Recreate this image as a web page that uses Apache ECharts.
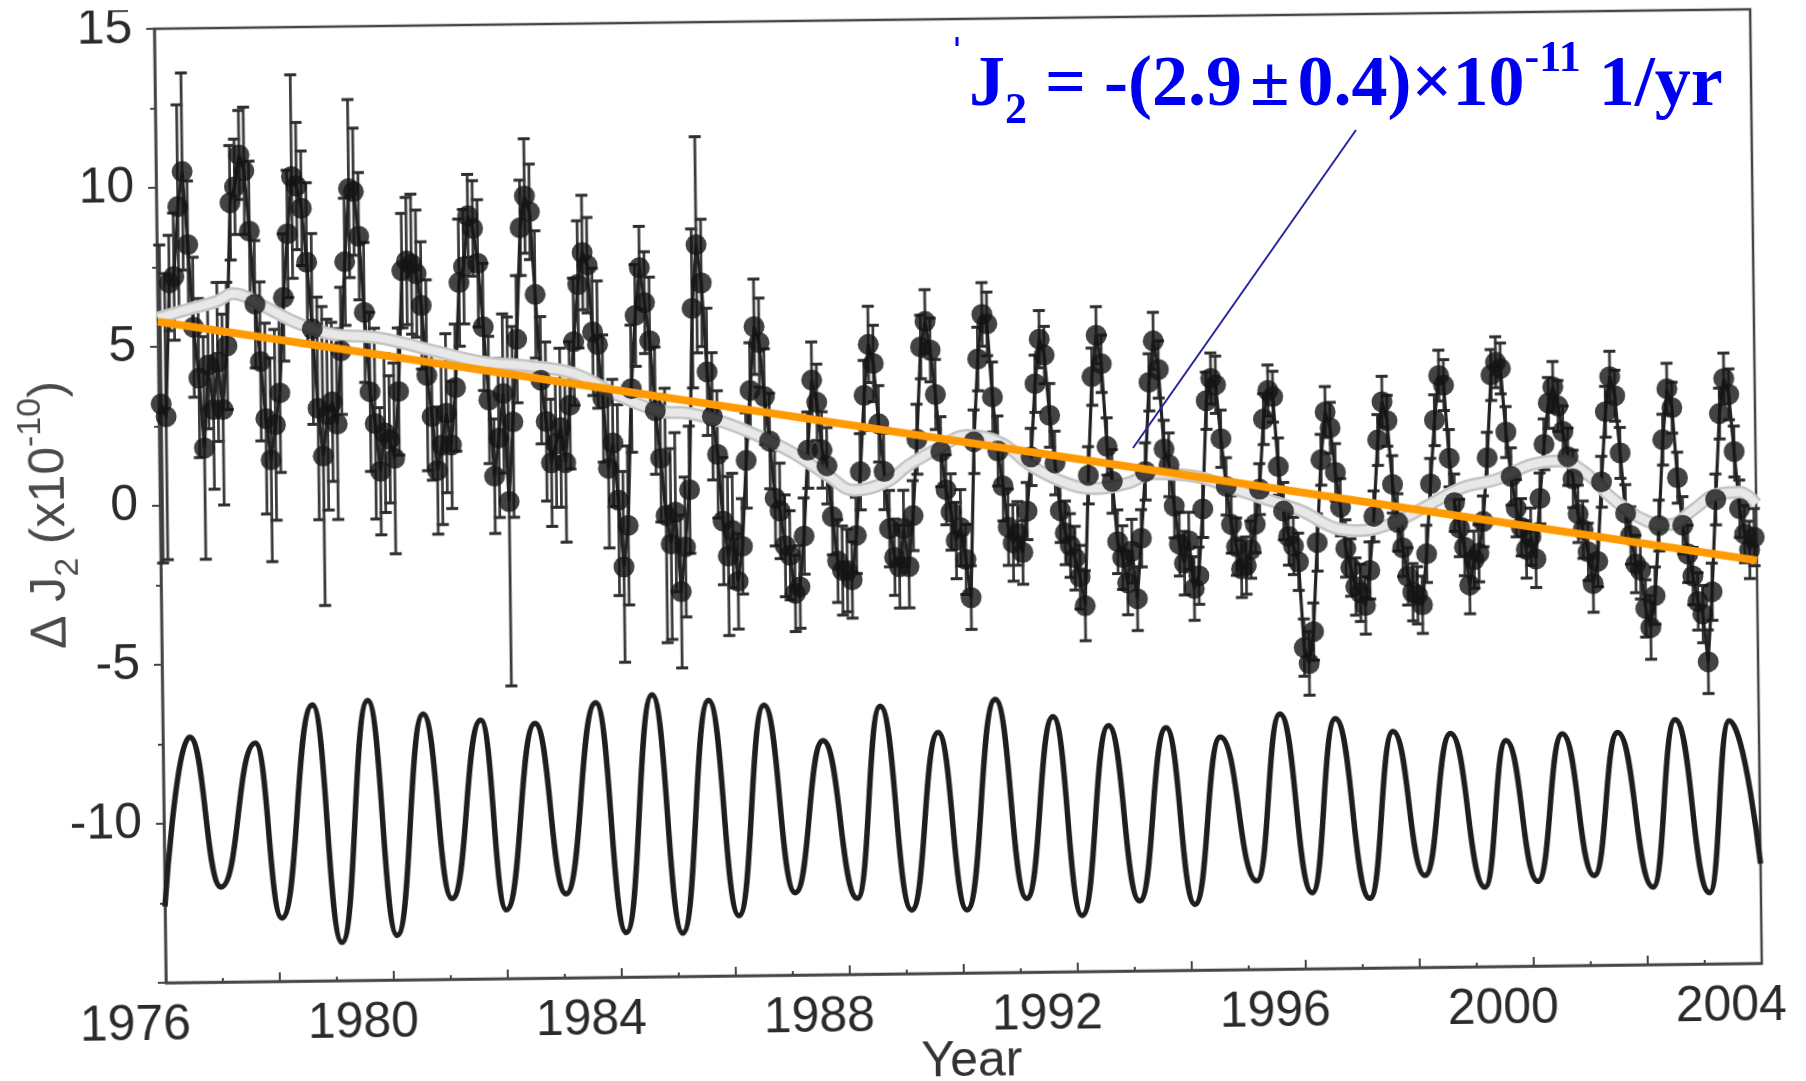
<!DOCTYPE html>
<html>
<head>
<meta charset="utf-8">
<script src="https://cdn.jsdelivr.net/npm/echarts@6/dist/echarts.min.js"></script>
<style>
  html, body { margin: 0; padding: 0; background: #fff; width: 1806px; height: 1081px; overflow: hidden; }
  /* the scanned figure sits slightly tilted on the page */
  #plot { position: absolute; left: 0; top: 0; width: 1806px; height: 1081px;
          transform: rotate(-0.7deg); transform-origin: 958.5px 496px; }
  #note { position: absolute; left: 0; top: 0; width: 1806px; height: 1081px; pointer-events: none; }
</style>
</head>
<body>
<div id="plot"></div>
<div id="note"></div>
<script>
// Monthly Delta J2 solutions (x1e-10), one row per year, Jan..Dec
const j2Monthly = [
  /*1976*/  3.2,  2.8,  7.0,  7.2,  9.4, 10.5,  8.2,  5.6,  4.0,  1.8,  4.4,  3.0,
  /*1977*/  4.5,  3.0,  5.0,  9.5, 10.0, 11.0, 10.5,  8.6,  6.3,  4.5,  2.7,  1.4,
  /*1978*/  2.5,  3.5,  6.5,  8.5, 10.3, 10.0,  9.3,  7.6,  5.5,  3.0,  1.5,  2.8,
  /*1979*/  3.2,  2.5,  4.8,  7.6,  9.9,  9.8,  8.4,  6.0,  3.5,  2.5,  1.0,  2.2,
  /*1980*/  2.0,  1.4,  3.5,  7.3,  7.6,  7.5,  7.2,  6.2,  4.0,  2.7,  1.0,  1.8,
  /*1981*/  2.8,  1.8,  3.6,  6.9,  7.4,  9.0,  8.6,  7.5,  5.5,  3.2,  0.8,  2.0,
  /*1982*/  3.4,  0.0,  2.5,  5.1,  8.6,  9.6,  9.1,  6.5,  3.8,  2.5,  1.2,  1.8,
  /*1983*/  2.3,  1.2,  3.0,  5.0,  6.8,  7.8,  7.4,  5.3,  4.9,  3.2,  1.0,  1.8,
  /*1984*/  0.0, -2.1, -0.8,  3.5,  5.8,  7.3,  6.2,  5.0,  2.8,  1.3, -0.5, -1.4,
  /*1985*/ -0.4, -2.9, -1.5,  0.3,  6.0,  8.0,  6.8,  4.0,  2.6,  1.4, -0.7, -1.8,
  /*1986*/ -1.0, -2.6, -1.5,  1.2,  3.4,  5.4,  4.9,  3.2,  1.8,  0.0, -0.4, -1.5,
  /*1987*/ -1.8, -3.0, -2.8, -1.2,  1.5,  3.7,  3.0,  1.5,  1.0, -0.6, -2.0, -2.3,
  /*1988*/ -2.3, -2.6, -1.2,  0.8,  3.2,  4.8,  4.2,  2.3,  0.8, -1.0, -1.9, -2.2,
  /*1989*/ -1.0, -2.2, -0.6,  1.8,  4.7,  5.5,  4.6,  3.2,  1.4,  0.2, -0.5, -1.4,
  /*1990*/ -1.0, -2.0, -3.2,  1.7,  4.3,  5.7,  5.4,  3.1,  1.4,  0.3, -1.0, -1.5,
  /*1991*/ -1.2, -1.8, -0.5,  1.2,  3.5,  4.9,  4.4,  2.5,  1.0, -0.5, -1.2, -1.6,
  /*1992*/ -2.0, -2.6, -3.5,  0.6,  3.7,  5.0,  4.1,  1.5,  0.4, -1.5, -2.0, -2.8,
  /*1993*/ -1.8, -3.3, -1.4,  0.7,  3.5,  4.8,  3.9,  1.4,  0.9, -0.4, -1.6, -2.2,
  /*1994*/ -1.5, -3.0, -2.6, -0.5,  2.9,  3.6,  3.4,  1.7,  0.2, -1.0, -1.7, -2.4,
  /*1995*/ -2.3, -1.8, -1.0,  0.1,  2.3,  3.2,  3.0,  0.8, -0.6, -1.4, -1.7, -2.2,
  /*1996*/ -4.9, -5.4, -4.4, -1.6,  1.0,  2.5,  2.0,  0.6, -0.5, -1.8, -2.4, -3.0,
  /*1997*/ -3.2, -3.6, -2.5, -0.8,  1.6,  2.8,  2.2,  0.2, -1.0, -1.8, -2.7, -3.2,
  /*1998*/ -3.3, -3.6, -2.0,  0.2,  2.2,  3.6,  3.3,  1.0, -0.4, -1.2, -1.8, -3.0,
  /*1999*/ -2.2, -2.0, -1.0,  1.0,  3.6,  4.0,  3.8,  1.8,  0.4, -0.6, -1.2, -1.9,
  /*2000*/ -1.5, -2.2, -0.3,  1.4,  2.7,  3.2,  2.6,  1.8,  1.0,  0.3, -0.8, -1.3,
  /*2001*/ -2.0, -3.0, -2.3,  0.2,  2.4,  3.5,  2.9,  1.1, -0.8, -1.5, -2.4, -2.6,
  /*2002*/ -3.8, -4.4, -3.4, -1.2,  1.5,  3.1,  2.5,  0.3, -1.2, -2.1, -2.8, -3.6,
  /*2003*/ -4.0, -5.5, -3.3, -0.4,  2.3,  3.4,  2.9,  1.1, -0.7, -1.5, -2.0, -1.6
];

// One-sigma uncertainty of each monthly solution (x1e-10)
const j2Sigma = [
  /*1976*/ 5.0, 4.5, 1.5, 2.0, 3.2, 3.1, 2.0, 2.2, 2.5, 3.5, 2.0, 2.5,
  /*1977*/ 2.5, 3.0, 2.0, 1.8, 1.5, 1.4, 2.0, 2.2, 2.0, 2.5, 3.0, 3.2,
  /*1978*/ 3.0, 2.5, 2.0, 2.0, 3.2, 2.0, 1.8, 2.5, 3.0, 3.5, 4.7, 3.0,
  /*1979*/ 2.5, 3.0, 2.0, 2.0, 2.8, 2.0, 2.0, 2.2, 2.5, 3.0, 2.0, 2.5,
  /*1980*/ 2.0, 3.0, 2.0, 1.8, 2.0, 2.2, 2.0, 2.0, 3.0, 2.0, 2.0, 2.5,
  /*1981*/ 2.5, 2.0, 2.0, 2.0, 1.8, 1.3, 1.5, 2.0, 2.0, 2.0, 1.8, 2.5,
  /*1982*/ 2.5, 5.8, 3.0, 2.0, 1.5, 1.8, 1.5, 2.0, 2.0, 2.5, 2.0, 2.0,
  /*1983*/ 2.5, 2.5, 2.0, 2.0, 2.0, 1.8, 1.5, 2.0, 2.0, 2.0, 2.5, 2.0,
  /*1984*/ 3.0, 3.0, 2.5, 2.0, 1.6, 1.3, 1.6, 2.0, 2.0, 2.0, 4.0, 3.0,
  /*1985*/ 2.5, 2.4, 2.2, 2.0, 2.5, 3.4, 2.0, 2.0, 2.0, 2.0, 2.0, 2.5,
  /*1986*/ 1.8, 1.5, 1.5, 1.5, 1.5, 1.5, 1.4, 1.5, 1.5, 1.5, 1.5, 1.6,
  /*1987*/ 1.4, 1.2, 1.3, 1.2, 1.2, 1.2, 1.2, 1.2, 1.2, 1.2, 1.3, 1.4,
  /*1988*/ 1.3, 1.2, 1.2, 1.2, 1.1, 1.2, 1.2, 1.2, 1.2, 1.2, 1.2, 1.3,
  /*1989*/ 1.2, 1.3, 1.1, 1.1, 1.0, 1.0, 1.0, 1.1, 1.1, 1.1, 1.2, 1.2,
  /*1990*/ 1.2, 1.1, 1.0, 1.0, 1.0, 1.0, 1.0, 1.1, 1.1, 1.1, 1.2, 1.2,
  /*1991*/ 1.0, 1.0, 0.9, 0.9, 0.9, 0.9, 0.9, 1.0, 1.0, 1.0, 1.0, 1.0,
  /*1992*/ 1.0, 1.0, 1.1, 0.9, 0.9, 0.9, 0.9, 0.9, 1.0, 1.0, 1.0, 1.0,
  /*1993*/ 1.0, 1.0, 0.9, 0.9, 0.9, 0.9, 0.9, 0.9, 1.0, 1.0, 1.0, 1.0,
  /*1994*/ 0.9, 1.0, 0.9, 0.9, 0.9, 0.8, 0.9, 0.9, 0.9, 0.9, 0.9, 0.9,
  /*1995*/ 0.9, 0.9, 0.9, 0.8, 0.8, 0.8, 0.8, 0.9, 0.9, 0.9, 0.9, 0.9,
  /*1996*/ 0.9, 1.0, 0.9, 0.9, 0.8, 0.8, 0.8, 0.9, 0.9, 0.9, 0.9, 0.9,
  /*1997*/ 0.9, 0.9, 0.9, 0.8, 0.8, 0.8, 0.8, 0.9, 0.9, 0.9, 0.9, 0.9,
  /*1998*/ 0.9, 0.9, 0.9, 0.8, 0.8, 0.8, 0.8, 0.9, 0.9, 0.9, 0.9, 0.9,
  /*1999*/ 0.9, 0.9, 0.8, 0.8, 0.8, 0.8, 0.8, 0.8, 0.9, 0.9, 0.9, 0.9,
  /*2000*/ 0.9, 0.9, 0.8, 0.8, 0.8, 0.8, 0.8, 0.8, 0.9, 0.9, 0.9, 0.9,
  /*2001*/ 0.9, 0.9, 0.8, 0.8, 0.8, 0.8, 0.8, 0.8, 0.9, 0.9, 0.9, 0.9,
  /*2002*/ 0.9, 1.0, 0.9, 0.8, 0.8, 0.8, 0.8, 0.8, 0.9, 0.9, 0.9, 0.9,
  /*2003*/ 0.9, 1.0, 0.9, 0.8, 0.8, 0.8, 0.8, 0.8, 0.9, 0.9, 0.9, 0.9
];

// Low-pass (interannual) curve through the monthly series: [year, value]
const j2Smoothed = [
  [1976.00, 5.90], [1976.50, 6.15], [1977.03, 6.40], [1977.33, 6.64], [1977.84, 6.25],
  [1978.44, 5.70], [1979.05, 5.33], [1979.86, 5.20], [1980.87, 4.75], [1981.68, 4.40],
  [1982.49, 4.25], [1983.29, 4.00], [1984.10, 3.26], [1984.81, 2.78], [1985.31, 2.70],
  [1985.92, 2.40], [1986.53, 1.95], [1987.13, 1.40], [1987.74, 0.67], [1988.18, 0.22],
  [1988.75, 0.47], [1989.15, 1.00], [1989.66, 1.50], [1990.16, 1.90], [1990.77, 1.65],
  [1991.28, 0.93], [1991.88, 0.38], [1992.39, 0.18], [1993.00, 0.35], [1993.40, 0.63],
  [1994.21, 0.51], [1994.81, 0.14], [1995.42, -0.23], [1996.02, -0.60], [1996.63, -1.16],
  [1997.04, -1.24], [1997.64, -1.00], [1998.25, -0.47], [1998.85, 0.07], [1999.46, 0.32],
  [2000.07, 0.77], [2000.57, 0.87], [2001.08, 0.39], [2001.48, -0.33], [2002.09, -1.06],
  [2002.49, -1.17], [2002.90, -0.71], [2003.30, -0.24], [2003.71, -0.18], [2004.00, -0.55]
];

// Seasonal model drawn below the data, offset for display: turning points [year, value]
const seasonalTurns = [
  [1976.00, -12.60], [1976.47, -7.29], [1976.99, -12.01], [1977.62, -7.50], [1978.05, -13.01],
  [1978.63, -6.32], [1979.10, -13.80], [1979.60, -6.20], [1980.07, -13.60], [1980.57, -6.65],
  [1981.04, -12.46], [1981.58, -6.86], [1981.99, -12.84], [1982.53, -6.99], [1983.04, -12.36],
  [1983.60, -6.36], [1984.09, -13.60], [1984.59, -6.13], [1985.08, -13.64], [1985.58, -6.33],
  [1986.07, -13.11], [1986.55, -6.50], [1987.06, -12.41], [1987.58, -7.64], [1988.15, -12.61],
  [1988.59, -6.58], [1989.10, -13.00], [1989.60, -7.43], [1990.07, -13.02], [1990.61, -6.41],
  [1991.12, -12.68], [1991.62, -6.97], [1992.09, -13.24], [1992.59, -7.28], [1993.10, -12.80],
  [1993.60, -7.37], [1994.07, -12.93], [1994.55, -7.68], [1995.16, -12.22], [1995.60, -6.98],
  [1996.13, -12.61], [1996.57, -7.15], [1997.14, -12.81], [1997.58, -7.57], [1998.11, -12.11],
  [1998.59, -7.66], [1999.16, -12.50], [1999.56, -7.90], [2000.09, -12.34], [2000.55, -7.71],
  [2001.08, -12.18], [2001.52, -7.69], [2002.11, -12.56], [2002.53, -7.31], [2003.10, -12.76],
  [2003.48, -7.37], [2004.00, -11.87]
];

// Secular trend: rate in units of 1e-10 per year, anchored at mid-span
const J2_RATE = -0.29;
const TREND_ANCHOR = [1990, 1.73];

const START_YEAR = 1976, END_YEAR = 2004;
const yTicks = [-15, -10, -5, 0, 5, 10, 15];
const yearLabels = [1976, 1980, 1984, 1988, 1992, 1996, 2000, 2004];

// ---- build series data ----
const points = j2Monthly.map((v, i) => [START_YEAR + (i + 0.5) / 12, v]);
const bars = j2Monthly.map((v, i) => [START_YEAR + (i + 0.5) / 12, v - j2Sigma[i], v + j2Sigma[i]]);
const trendLine = [START_YEAR, END_YEAR].map(t => [t, TREND_ANCHOR[1] + J2_RATE * (t - TREND_ANCHOR[0])]);

const SANS = 'Liberation Sans, Arial, sans-serif';
const AXIS = '#454545';
const TITLE = '#4a4a4a';

const plot = echarts.init(document.getElementById('plot'), null, { renderer: 'canvas' });
plot.setOption({
  animation: false,
  backgroundColor: '#ffffff',
  grid: { left: 160, top: 19, width: 1596, height: 954, show: true, outerBoundsMode: 'none',
          containLabel: false, borderColor: AXIS, borderWidth: 2.5, backgroundColor: 'transparent' },
  xAxis: {
    type: 'value', min: START_YEAR, max: END_YEAR, interval: 2,
    name: 'Year', nameLocation: 'middle', nameGap: 64, nameMoveOverlap: false,
    nameTextStyle: { fontFamily: SANS, fontSize: 50, color: '#333', padding: [0, 0, 0, 14] },
    axisLine: { show: true, onZero: false, lineStyle: { color: AXIS, width: 2.5 } },
    axisTick: { show: true, inside: true, length: 9, lineStyle: { color: AXIS, width: 2 } },
    minorTick: { show: true, splitNumber: 2, length: 4, lineStyle: { color: AXIS, width: 2 } },
    splitLine: { show: false },
    axisLabel: {
      fontFamily: SANS, fontSize: 50, color: '#2a2a2a', margin: 18,
      padding: [0, 62, 0, 0],
      formatter: v => (yearLabels.indexOf(Math.round(v)) >= 0 ? String(Math.round(v)) : '')
    }
  },
  yAxis: {
    type: 'value', min: -15, max: 15, interval: 5,
    name: '{d|\u0394 J}{s|2}{d| (x10}{p|-10}{d|)}',
    nameLocation: 'middle', nameRotate: 90, nameGap: 75, nameMoveOverlap: false,
    nameTextStyle: {
      fontFamily: SANS, fontSize: 50, color: TITLE, padding: [0, 16, 0, 0],
      rich: {
        d: { fontFamily: SANS, fontSize: 50, color: TITLE, lineHeight: 70 },
        s: { fontFamily: SANS, fontSize: 34, color: TITLE, lineHeight: 70, verticalAlign: 'bottom' },
        p: { fontFamily: SANS, fontSize: 34, color: TITLE, lineHeight: 70, verticalAlign: 'top' }
      }
    },
    axisLine: { show: true, onZero: false, lineStyle: { color: AXIS, width: 2.5 } },
    axisTick: { show: true, inside: false, length: 8, lineStyle: { color: AXIS, width: 2 } },
    minorTick: { show: true, splitNumber: 2, length: 5, lineStyle: { color: AXIS, width: 2 } },
    splitLine: { show: false },
    axisLabel: {
      fontFamily: SANS, fontSize: 50, color: '#2a2a2a', margin: 22,
      padding: [18, 0, 0, 0],
      formatter: v => (yTicks.indexOf(v) >= 0 && v !== -15 ? String(v) : '')
    }
  },
  series: [
    {
      name: 'error bars', type: 'custom', z: 1, silent: true,
      encode: { x: 0, y: [1, 2] },
      data: bars,
      renderItem: function (params, api) {
        const t = api.value(0);
        const top = api.coord([t, api.value(2)]);
        const bot = api.coord([t, api.value(1)]);
        const c = 6;
        const cap = { stroke: '#2e2e2e', lineWidth: 3 };
        return {
          type: 'group',
          children: [
            { type: 'line', shape: { x1: top[0], y1: top[1], x2: bot[0], y2: bot[1] }, style: { stroke: '#3c3c3c', lineWidth: 2.8 } },
            { type: 'line', shape: { x1: top[0] - c, y1: top[1], x2: top[0] + c, y2: top[1] }, style: cap },
            { type: 'line', shape: { x1: bot[0] - c, y1: bot[1], x2: bot[0] + c, y2: bot[1] }, style: cap }
          ]
        };
      }
    },
    {
      name: 'monthly link', type: 'line', z: 2, silent: true,
      data: points, showSymbol: false,
      lineStyle: { color: '#222', width: 3.2 }
    },
    {
      name: 'smoothed edge', type: 'line', z: 3, silent: true,
      data: j2Smoothed, smooth: 0.4, showSymbol: false,
      lineStyle: { color: '#c4c4c4', width: 13 }
    },
    {
      name: 'smoothed', type: 'line', z: 3, silent: true,
      data: j2Smoothed, smooth: 0.4, showSymbol: false,
      lineStyle: { color: '#e8e8e8', width: 8 }
    },
    {
      name: 'monthly', type: 'scatter', z: 4, silent: true,
      data: points, symbol: 'circle', symbolSize: 21,
      itemStyle: { color: '#141414' }
    },
    {
      name: 'seasonal', type: 'line', z: 2, silent: true,
      data: seasonalTurns, smooth: 0.5, smoothMonotone: 'x', showSymbol: false,
      lineStyle: { color: '#1e1e1e', width: 5.5 }
    },
    {
      name: 'trend', type: 'line', z: 6, silent: true,
      data: trendLine, showSymbol: false,
      lineStyle: { color: '#ff9a00', width: 8 }
    }
  ]
});

// Rate annotation placed on top of the figure
const note = echarts.init(document.getElementById('note'), null, { renderer: 'canvas' });
const BLUE = '#0000f0';
const SERIF = 'Liberation Serif, Times New Roman, serif';
note.setOption({
  animation: false,
  backgroundColor: 'transparent',
  graphic: [
    { type: 'rect', shape: { x: 955.5, y: 37, width: 3, height: 9 }, style: { fill: BLUE } },
    {
      type: 'text', x: 969, y: 86,
      style: {
        text: '{t|J}{sb|2}{t| = -(2.9}{pm|\u00b1}{t|0.4)\u00d710}{sp|-11}{t| 1/yr}',
        align: 'left', verticalAlign: 'middle',
        rich: {
          t:  { fontFamily: SERIF, fontWeight: 'bold', fontSize: 72, fill: BLUE, lineHeight: 96 },
          pm: { fontFamily: SERIF, fontWeight: 'bold', fontSize: 72, fill: BLUE, lineHeight: 96, padding: [0, 8, 0, 8] },
          sb: { fontFamily: SERIF, fontWeight: 'bold', fontSize: 44, fill: BLUE, lineHeight: 96, verticalAlign: 'bottom' },
          sp: { fontFamily: SERIF, fontWeight: 'bold', fontSize: 44, fill: BLUE, lineHeight: 96, verticalAlign: 'top' }
        }
      }
    },
    { type: 'line', shape: { x1: 1356, y1: 130, x2: 1133, y2: 448 }, style: { stroke: '#26269c', lineWidth: 2 } }
  ]
});
</script>
</body>
</html>
